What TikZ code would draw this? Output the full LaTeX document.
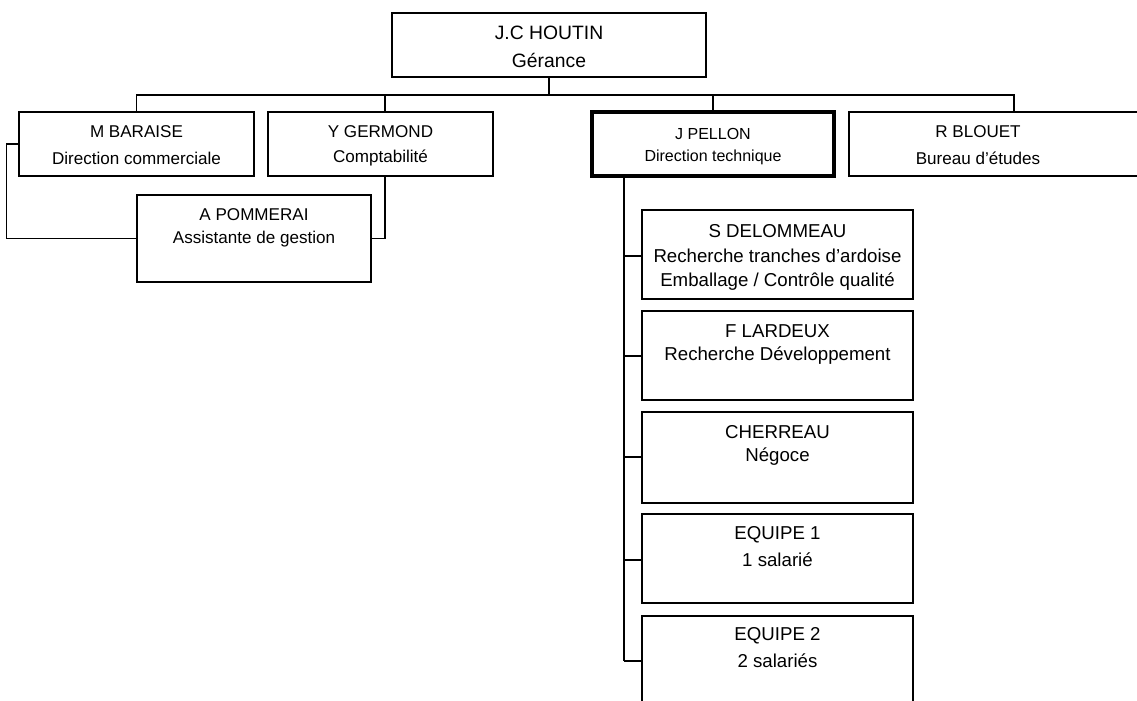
\documentclass[tikz,border=0pt]{standalone}
\usepackage{fontspec}
\setmainfont{Liberation Sans}
\usetikzlibrary{fit}
\begin{document}
\begin{tikzpicture}[x=0.75pt,y=-0.75pt,
  box/.style={draw, line width=0.9pt, inner sep=0pt},
  thickbox/.style={draw, line width=2.6pt, inner sep=0pt},
  link/.style={draw, line width=0.9pt},
  tl/.style={inner sep=0pt, font=\fontsize{12.8pt}{14pt}\selectfont},
  tr/.style={inner sep=0pt, font=\fontsize{14pt}{16pt}\selectfont},
  tp/.style={inner sep=0pt, font=\fontsize{12pt}{14pt}\selectfont},
  tt/.style={inner sep=0pt, font=\fontsize{14.5pt}{16pt}\selectfont}]
\useasboundingbox (0,0) rectangle (1137,700);
\clip (0,0) rectangle (1137,700);
\fill[white] (0,0) rectangle (1137,700);
% boxes
\node[box, fit={(392,13) (706,77)}] (hout) {};
\node[box, fit={(19,112) (254,176)}] (bar) {};
\node[box, fit={(268,112) (493,176)}] (ger) {};
\node[thickbox, fit={(592,112) (834,176)}] (pel) {};
\node[box, fit={(849,112) (1170,176)}] (blo) {};
\node[box, fit={(137,195) (371,282)}] (pom) {};
\node[box, fit={(642,210) (913,299)}] (del) {};
\node[box, fit={(642,311) (913,400)}] (lar) {};
\node[box, fit={(642,412) (913,503)}] (che) {};
\node[box, fit={(642,514) (913,603)}] (eq1) {};
\node[box, fit={(642,616) (913,740)}] (eq2) {};
% texts
\node[tt] (hout1) at (549,33) {J.C HOUTIN};
\node[tt] (hout2) at (549,60) {Gérance};
\node[tl] (bar1) at (136.5,132) {M BARAISE};
\node[tl] (bar2) at (136.5,158) {Direction commerciale};
\node[tl] (ger1) at (380.5,132) {Y GERMOND};
\node[tl] (ger2) at (380.5,158) {Comptabilité};
\node[tp] (pel1) at (713,134) {J PELLON};
\node[tp] (pel2) at (713,157) {Direction technique};
\node[tl] (blo1) at (978,132) {R BLOUET};
\node[tl] (blo2) at (978,158) {Bureau d'études};
\node[tl] (pom1) at (254,215) {A POMMERAI};
\node[tl] (pom2) at (254,239) {Assistante de gestion};
\node[tr] (del1) at (777.5,231) {S DELOMMEAU};
\node[tr] (del2) at (777.5,256) {Recherche tranches d'ardoise};
\node[tr] (del3) at (777.5,282) {Emballage / Contrôle qualité};
\node[tr] (lar1) at (777.5,331) {F LARDEUX};
\node[tr] (lar2) at (777.5,356) {Recherche Développement};
\node[tr] (che1) at (777.5,432) {CHERREAU};
\node[tr] (che2) at (777.5,457) {Négoce};
\node[tr] (eq11) at (777.5,535) {EQUIPE 1};
\node[tr] (eq12) at (777.5,560) {1 salarié};
\node[tr] (eq21) at (777.5,636) {EQUIPE 2};
\node[tr] (eq22) at (777.5,661) {2 salariés};
% connectors
\coordinate (bus) at (549,95);
\coordinate (bloTop) at (1014,112);
\coordinate (pelOut) at (624,176);
\coordinate (gerTop) at (385,112);
\coordinate (gerBot) at (385,176);
\draw[link] (hout.south) -- (bus);
\draw[link] (bar.north) |- (bus) -| (bloTop);
\draw[link] (gerTop) -- (gerTop |- bus);
\draw[link] (pel.north) -- (pel.north |- bus);
\draw[link] (bar.west) -- ++(-12,0) |- (pom.west);
\draw[link] (gerBot) |- (pom.east);
\draw[link] (pelOut) -- (pelOut |- eq22);
\foreach \b/\t in {del/del2, lar/lar2, che/che2, eq1/eq12, eq2/eq22}
  \draw[link] (pelOut |- \t) -- (\b.west |- \t);
\end{tikzpicture}
\end{document}
